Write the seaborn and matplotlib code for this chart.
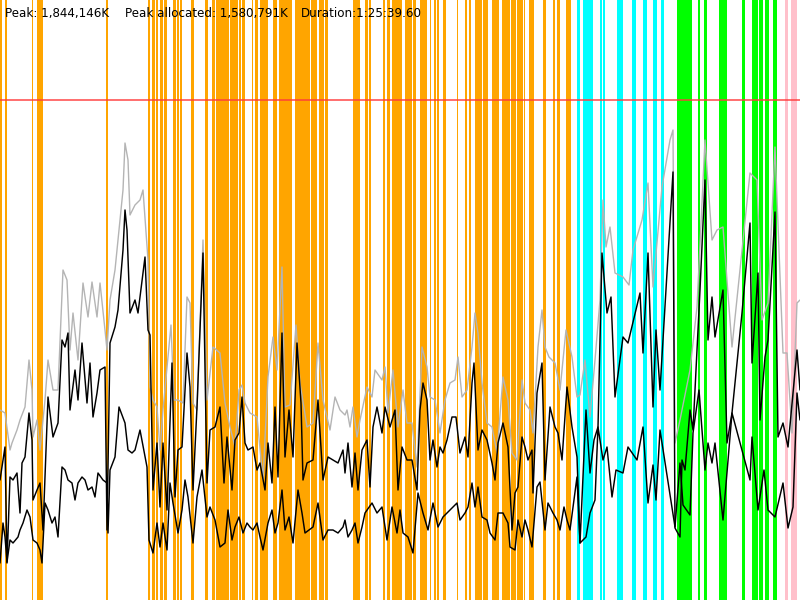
import matplotlib
matplotlib.use("Agg")
import matplotlib.pyplot as plt
import seaborn as sns
import pandas as pd

# ---------------- data ----------------
PEAK_K = 1844146
PEAK_ALLOC_K = 1580791
DURATION = "1:25:39.60"
REDLINE_UNITS = 500            # red line level in chart units
K_PER_UNIT = PEAK_K / REDLINE_UNITS

# time-line phases (start, end) in time units 0..800
orange_spans = [(0, 2), (5, 7), (32, 33), (37, 43), (106, 108), (148, 150), (152, 155),
                (156, 158), (160, 163), (164, 167), (173, 176), (177, 179), (180, 182),
                (191, 194), (205, 208), (212, 215), (216, 229), (230, 238), (239, 241),
                (242, 245), (252, 253), (255, 258), (260, 268), (273, 277), (279, 292),
                (295, 310), (311, 317), (319, 324), (325, 328), (353, 360), (365, 368),
                (369, 371), (383, 385), (387, 390), (392, 402), (405, 407), (407, 412),
                (413, 416), (420, 427), (430, 431), (434, 436), (437, 439), (443, 446),
                (457, 458), (465, 467), (469, 471), (475, 482), (483, 488), (492, 499),
                (502, 510), (511, 516), (517, 523), (524, 525), (529, 534), (543, 546),
                (553, 555), (557, 560), (566, 571)]
cyan_spans = [(577, 580), (583, 593), (600, 602), (603, 605), (617, 623), (632, 636),
              (643, 647), (653, 657), (661, 664)]
green_spans = [(677, 692), (698, 700), (704, 707), (719, 727), (742, 745), (752, 758),
               (759, 763), (765, 769), (773, 777)]
pink_spans = [(785, 788), (791, 797)]

# peak (gray) series
gray_t = [0, 5, 10, 12, 17, 20, 25, 29, 32, 33, 37, 40, 45, 48, 53, 58, 63, 67, 70, 73,
          78, 83, 88, 92, 97, 100, 105, 107, 110, 115, 118, 123, 125, 128, 130, 135, 140,
          143, 148, 150, 153, 157, 160, 163, 171, 174, 178, 183, 187, 190, 193, 197, 203,
          207, 213, 220, 225, 230, 235, 239, 242, 245, 250, 257, 263, 268, 273, 277, 282,
          285, 290, 296, 300, 307, 313, 318, 323, 330, 335, 340, 345, 347, 350, 353, 357,
          360, 367, 372, 375, 382, 385, 388, 393, 398, 403, 407, 412, 417, 422, 427, 430,
          435, 440, 445, 450, 455, 458, 462, 467, 472, 475, 478, 482, 487, 492, 497, 503,
          508, 512, 517, 522, 525, 530, 533, 538, 542, 545, 549, 555, 560, 566, 572, 577,
          580, 585, 590, 595, 600, 603, 606, 610, 615, 623, 629, 633, 642, 648, 653, 662,
          670, 673, 675, 680, 690, 697, 705, 712, 717, 723, 732, 750, 757, 762, 768, 775,
          783, 787, 792, 797, 800]
gray_v = [190, 187, 150, 157, 170, 180, 193, 240, 210, 163, 180, 150, 200, 240, 210, 210,
          330, 320, 250, 287, 240, 317, 283, 318, 283, 317, 270, 250, 300, 330, 360, 410,
          457, 440, 385, 395, 400, 410, 340, 213, 200, 193, 150, 190, 275, 200, 200, 197,
          303, 297, 197, 190, 360, 200, 253, 247, 197, 173, 153, 210, 215, 197, 187, 183,
          120, 223, 263, 230, 333, 193, 195, 275, 217, 173, 177, 257, 200, 170, 203, 190,
          185, 190, 173, 193, 163, 180, 213, 203, 230, 220, 233, 187, 230, 173, 210, 177,
          177, 133, 253, 233, 203, 200, 167, 200, 217, 220, 243, 203, 210, 253, 287, 267,
          217, 177, 173, 147, 223, 200, 147, 140, 220, 197, 190, 167, 253, 290, 253, 243,
          237, 210, 270, 243, 203, 205, 240, 183, 240, 300, 400, 353, 373, 327, 323, 315,
          350, 380, 417, 313, 413, 460, 470, 157, 180, 230, 293, 460, 360, 370, 373, 253,
          427, 420, 280, 297, 453, 247, 247, 167, 297, 300]

# allocated (upper black) series
alloc_t = [0, 5, 7, 10, 13, 17, 20, 22, 25, 29, 32, 33, 37, 40, 43, 48, 53, 58, 62, 65,
           68, 70, 75, 78, 82, 87, 90, 93, 97, 100, 105, 107, 110, 115, 118, 123, 125, 127,
           130, 135, 138, 145, 148, 150, 153, 157, 160, 163, 167, 172, 175, 178, 182, 187,
           190, 193, 197, 203, 207, 210, 215, 220, 224, 227, 232, 235, 239, 242, 245, 248,
           253, 257, 260, 265, 268, 272, 275, 278, 282, 285, 289, 293, 297, 301, 303, 307,
           313, 318, 323, 328, 333, 338, 343, 345, 348, 352, 355, 358, 362, 367, 370, 373,
           377, 382, 385, 390, 395, 398, 402, 407, 412, 417, 420, 423, 427, 430, 433, 437,
           440, 443, 447, 452, 456, 460, 465, 468, 472, 474, 478, 482, 487, 492, 495, 498,
           503, 508, 512, 515, 518, 522, 525, 528, 532, 533, 537, 542, 545, 550, 555, 558,
           562, 567, 572, 577, 580, 586, 590, 594, 598, 602, 607, 611, 615, 623, 628, 640,
           643, 648, 653, 656, 660, 673, 675, 680, 682, 685, 690, 693, 700, 705, 708, 712,
           715, 723, 727, 732, 742, 750, 752, 758, 760, 765, 768, 775, 778, 783, 788, 797,
           800]
alloc_v = [120, 153, 37, 123, 120, 127, 87, 137, 143, 187, 160, 100, 110, 117, 70, 203,
           163, 177, 260, 253, 267, 190, 230, 200, 257, 197, 237, 183, 207, 230, 233, 70,
           257, 273, 290, 350, 390, 370, 287, 300, 287, 343, 270, 265, 110, 157, 93, 157,
           90, 237, 103, 150, 153, 247, 213, 110, 193, 347, 117, 170, 173, 193, 117, 163,
           110, 160, 167, 203, 157, 150, 153, 130, 137, 110, 157, 117, 193, 123, 267, 143,
           190, 143, 257, 197, 120, 137, 140, 200, 120, 143, 140, 137, 150, 127, 157, 113,
           147, 110, 150, 160, 113, 173, 193, 167, 193, 173, 190, 110, 153, 140, 140, 110,
           190, 217, 200, 140, 160, 133, 153, 147, 160, 183, 183, 147, 163, 143, 217, 237,
           150, 170, 160, 137, 120, 157, 177, 153, 70, 107, 113, 163, 153, 140, 150, 107,
           207, 237, 120, 193, 173, 167, 140, 213, 173, 143, 57, 190, 127, 160, 173, 347,
           287, 303, 203, 263, 257, 307, 247, 347, 193, 270, 210, 428, 72, 63, 140, 130,
           190, 170, 310, 420, 260, 303, 263, 310, 157, 187, 287, 377, 237, 327, 180, 243,
           260, 388, 163, 177, 153, 250, 210]

# lower black series
low_t = [0, 3, 5, 7, 10, 13, 18, 20, 23, 27, 30, 33, 37, 40, 42, 45, 48, 52, 55, 58, 62,
         65, 68, 72, 75, 78, 82, 85, 88, 92, 95, 98, 103, 107, 108, 110, 115, 119, 125, 128,
         132, 135, 140, 147, 149, 153, 157, 160, 163, 167, 170, 173, 178, 182, 185, 188,
         193, 197, 202, 207, 210, 215, 220, 225, 228, 232, 235, 239, 243, 247, 250, 253,
         257, 260, 263, 268, 272, 275, 278, 282, 285, 289, 293, 298, 302, 305, 313, 318,
         323, 328, 333, 338, 343, 345, 348, 352, 355, 358, 362, 365, 372, 377, 382, 387,
         392, 397, 400, 403, 408, 413, 418, 423, 428, 433, 438, 443, 450, 457, 460, 465,
         468, 472, 475, 478, 482, 487, 490, 495, 498, 503, 508, 510, 515, 518, 522, 525,
         528, 532, 537, 540, 545, 548, 553, 557, 560, 564, 567, 570, 577, 580, 586, 590,
         595, 598, 603, 607, 612, 616, 623, 628, 637, 643, 648, 653, 656, 660, 675, 680,
         683, 690, 693, 699, 705, 708, 712, 715, 723, 732, 750, 752, 758, 764, 768, 775,
         783, 788, 793, 797, 800]
low_v = [37, 77, 63, 38, 60, 57, 63, 70, 77, 90, 83, 60, 57, 50, 37, 97, 90, 77, 83, 63,
         133, 130, 120, 117, 100, 117, 123, 120, 110, 113, 103, 127, 120, 117, 67, 130, 143,
         193, 177, 150, 147, 150, 170, 133, 60, 47, 77, 53, 77, 50, 117, 97, 67, 90, 120,
         103, 57, 103, 130, 83, 93, 80, 53, 57, 90, 60, 73, 83, 67, 77, 73, 70, 77, 63, 50,
         77, 90, 67, 77, 110, 70, 83, 57, 110, 87, 67, 73, 97, 60, 70, 70, 67, 73, 80, 63,
         70, 77, 57, 73, 87, 97, 87, 93, 60, 93, 67, 90, 67, 63, 47, 107, 87, 70, 97, 73,
         83, 90, 97, 80, 87, 93, 117, 93, 113, 83, 80, 67, 60, 87, 87, 77, 53, 50, 80, 63,
         80, 70, 53, 113, 118, 70, 97, 87, 80, 70, 93, 80, 70, 123, 57, 63, 87, 100, 173,
         140, 153, 103, 130, 127, 153, 140, 173, 97, 135, 100, 170, 73, 137, 95, 85, 167,
         210, 130, 157, 137, 157, 80, 187, 120, 163, 90, 130, 90, 83, 117, 72, 93, 207, 180]

# ---------------- plot ----------------
sns.set_theme(style="white")
plt.rcParams['font.family'] = ['DejaVu Sans']

fig = plt.figure(figsize=(8, 6), dpi=100)
ax = fig.add_axes([0, 0, 1, 1])

for spans, col in [(orange_spans, "#FFA500"), (cyan_spans, "#00FFFF"),
                   (green_spans, "#00FF00"), (pink_spans, "#FFC0CB")]:
    for s, e in spans:
        ax.axvspan(s, e, color=col, lw=0, zorder=1)

ax.axhline(REDLINE_UNITS * K_PER_UNIT, color="#ff3b3b", alpha=0.8, lw=1.3, zorder=2)

def to_df(t, v):
    return pd.DataFrame({"t": t, "mem": [x * K_PER_UNIT for x in v]})

sns.lineplot(data=to_df(gray_t, gray_v), x="t", y="mem", sort=False, estimator=None,
             color="#b4b4b4", lw=1.0, ax=ax, zorder=3)
sns.lineplot(data=to_df(low_t, low_v), x="t", y="mem", sort=False, estimator=None,
             color="black", lw=1.05, ax=ax, zorder=4)
sns.lineplot(data=to_df(alloc_t, alloc_v), x="t", y="mem", sort=False, estimator=None,
             color="black", lw=1.05, ax=ax, zorder=5)

ax.set_xlim(0, 800)
ax.set_ylim(0, 600 * K_PER_UNIT)
ax.set_axis_off()

ty = 1 - 17 / 600
fs = 8.6
fig.text(5 / 800, ty, f"Peak: {PEAK_K:,}K", fontsize=fs, va="baseline", ha="left",
         color="black")
fig.text(125 / 800, ty, f"Peak allocated: {PEAK_ALLOC_K:,}K", fontsize=fs,
         va="baseline", ha="left", color="black")
fig.text(301 / 800, ty, f"Duration:{DURATION}", fontsize=fs, va="baseline", ha="left",
         color="black")

fig.savefig("out.png", dpi=100)
